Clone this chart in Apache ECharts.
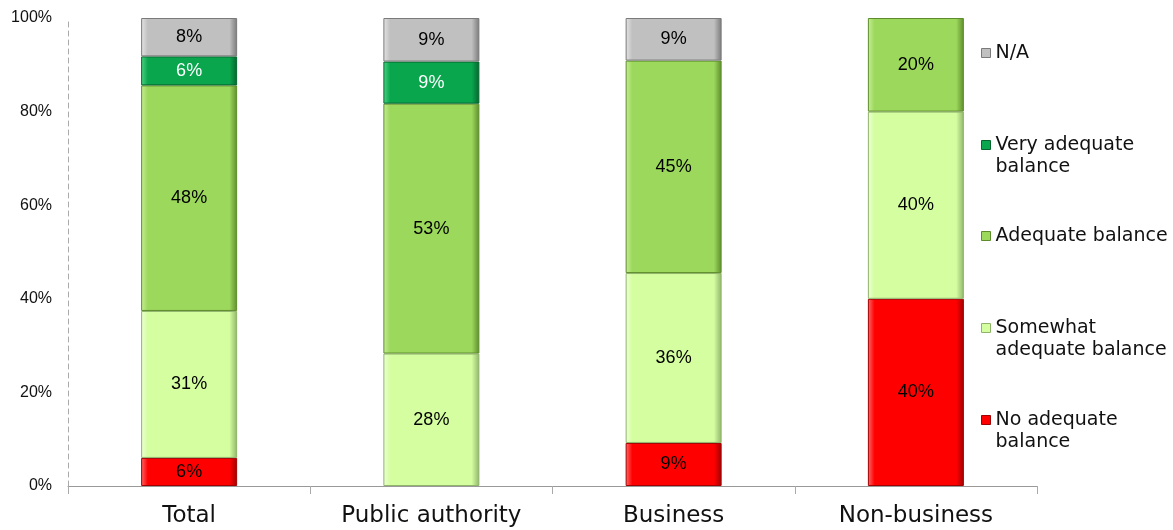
<!DOCTYPE html>
<html>
<head>
<meta charset="utf-8">
<script src="https://cdn.jsdelivr.net/npm/echarts@6/dist/echarts.min.js"></script>
<style>
html,body{margin:0;padding:0;background:#fff;}
#chart{width:1173px;height:530px;}
</style>
</head>
<body>
<div id="chart"></div>
<script>
const categories = ['Total', 'Public authority', 'Business', 'Non-business'];
const yTickLabels = ['0%', '20%', '40%', '60%', '80%', '100%'];
const noAdequate = [6.0, 0, 9.2, 40.0];
const somewhatAdequate = [31.4, 28.3, 36.3, 40.0];
const adequate = [48.2, 53.4, 45.4, 20.0];
const veryAdequate = [6.2, 9.0, 0, 0];
const notApplicable = [8.2, 9.3, 9.1, 0];

const seriesNames = ['No adequate balance', 'Somewhat adequate balance', 'Adequate balance', 'Very adequate balance', 'N/A'];
const legendLabels = {
  'No adequate balance': '\nNo adequate\nbalance',
  'Somewhat adequate balance': '\nSomewhat\nadequate balance',
  'Adequate balance': 'Adequate balance',
  'Very adequate balance': '\nVery adequate\nbalance',
  'N/A': 'N/A'
};
const seriesData = [noAdequate, somewhatAdequate, adequate, veryAdequate, notApplicable];
const baseColors = ['#FF0000', '#D4FEA0', '#9CD85C', '#0AA64E', '#C0C0C0'];
const lightColors = ['#FF6A6A', '#EEFFD6', '#C6EE96', '#4CD585', '#E4E4E4'];
const darkColors = ['#A00000', '#8FB46A', '#5E8C2C', '#05652E', '#7A7A7A'];
const labelColors = ['#000', '#000', '#000', '#fff', '#000'];

function grad(i) {
  return new echarts.graphic.LinearGradient(0, 0, 1, 0, [
    {offset: 0, color: lightColors[i]},
    {offset: 0.07, color: baseColors[i]},
    {offset: 0.92, color: baseColors[i]},
    {offset: 1, color: darkColors[i]}
  ]);
}

const series = seriesNames.map((name, i) => ({
  name: name,
  type: 'bar',
  stack: 'total',
  barWidth: 96,
  data: seriesData[i].map(v => v > 0 ? v : '-'),
  itemStyle: {color: grad(i), borderColor: darkColors[i], borderWidth: 1},
  label: {
    show: true,
    position: 'inside',
    color: labelColors[i],
    fontFamily: 'Liberation Sans, Arial, sans-serif',
    fontSize: 18,
    formatter: p => Math.round(p.value) + '%'
  },
  emphasis: {disabled: true}
}));

const legendTops = {'N/A': 37, 'Very adequate balance': 107, 'Adequate balance': 220, 'Somewhat adequate balance': 290, 'No adequate balance': 382};
const legends = seriesNames.map((name, i) => ({
  orient: 'vertical',
  left: 976,
  top: legendTops[name],
  data: [{name: name, itemStyle: {color: baseColors[i], borderColor: darkColors[i], borderWidth: 1}}],
  icon: 'rect',
  itemWidth: 9,
  itemHeight: 9,
  itemGap: 0,
  selectedMode: false,
  formatter: n => legendLabels[n],
  textStyle: {
    fontFamily: 'DejaVu Sans, Verdana, sans-serif',
    fontSize: 19,
    color: '#111',
    lineHeight: 22
  }
}));

const chart = echarts.init(document.getElementById('chart'));
chart.setOption({
  animation: false,
  backgroundColor: '#fff',
  grid: {left: 68, right: 136, top: 18, bottom: 44, containLabel: false},
  legend: legends,
  xAxis: {
    type: 'category',
    data: categories,
    axisLine: {lineStyle: {color: '#999', width: 1}},
    axisTick: {show: true, length: 8, lineStyle: {color: '#aaa'}, alignWithLabel: false},
    axisLabel: {
      fontFamily: 'DejaVu Sans, Verdana, sans-serif',
      fontSize: 23,
      color: '#111',
      margin: 19,
      interval: 0
    }
  },
  yAxis: {
    type: 'value',
    min: 0,
    max: 100,
    interval: 20,
    axisLine: {show: true, lineStyle: {color: '#aaa', type: [5, 4]}},
    axisTick: {show: false},
    splitLine: {show: false},
    axisLabel: {
      fontFamily: 'Liberation Sans, Arial, sans-serif',
      fontSize: 16,
      color: '#111',
      margin: 16,
      formatter: v => yTickLabels[Math.round(v / 20)]
    }
  },
  series: series
});
</script>
</body>
</html>
